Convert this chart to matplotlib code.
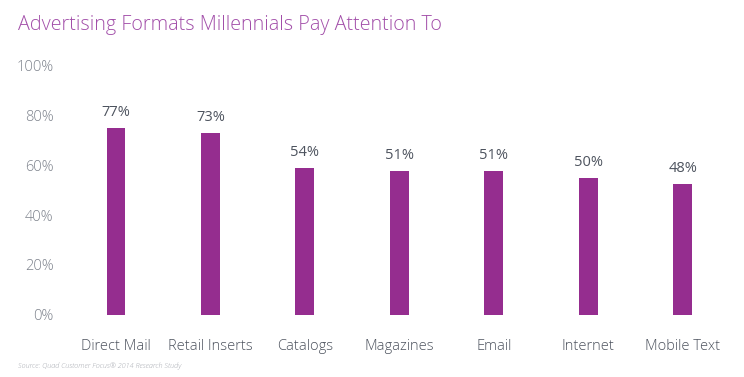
import matplotlib
matplotlib.use("Agg")
import matplotlib.pyplot as plt
from matplotlib.ticker import FuncFormatter

categories = ["Direct Mail", "Retail Inserts", "Catalogs", "Magazines", "Email", "Internet", "Mobile Text"]
bar_heights = [74.7, 72.7, 58.7, 57.6, 57.6, 54.7, 52.4]
value_labels = ["77%", "73%", "54%", "51%", "51%", "50%", "48%"]
y_ticks = [0, 20, 40, 60, 80, 100]

plt.rcParams['font.family'] = ['Open Sans', 'DejaVu Sans']
plt.rcParams['font.weight'] = 'light'

fig = plt.figure(figsize=(7.44, 3.77), dpi=100)
ax = fig.add_axes([0.0925, 0.1645, 0.8885, 0.663])

x = list(range(len(categories)))
bars = ax.bar(x, bar_heights, width=0.2, color="#952d8f")

for xi, h, lab in zip(x, bar_heights, value_labels):
    ax.annotate(lab, (xi, h), xytext=(0, 6), textcoords="offset points",
                ha="center", va="bottom", fontsize=10.5, color="#4d535e",
                fontweight="normal")

ax.set_xlim(-0.5, len(categories) - 0.5)
ax.set_ylim(0, 100)
ax.set_yticks(y_ticks)
ax.yaxis.set_major_formatter(FuncFormatter(lambda v, p: f"{int(v)}%"))
ax.set_xticks(x)
ax.set_xticklabels(categories)
ax.tick_params(axis="y", length=0, pad=11, labelsize=10.5, labelcolor="#7d828c")
ax.tick_params(axis="x", length=0, pad=17, labelsize=10.5, labelcolor="#4d535e")
for s in ax.spines.values():
    s.set_visible(False)

fig.text(18 / 744, 1 - 25 / 377, "Advertising Formats Millennials Pay Attention To",
         fontsize=14.2, color="#a24ea9", va="center", ha="left")
fig.text(18 / 744, 1 - 366 / 377, "Source: Quad Customer Focus® 2014 Research Study",
         fontsize=5.2, color="#a8abb2", style="italic", va="center", ha="left")

fig.savefig("out.png", dpi=100)
